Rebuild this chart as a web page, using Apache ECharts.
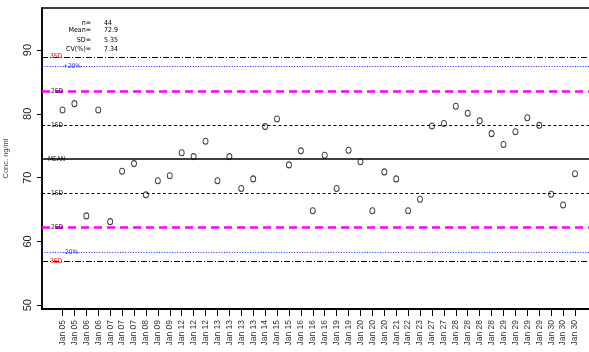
<!DOCTYPE html>
<html>
<head>
<meta charset="utf-8">
<script src="https://cdn.jsdelivr.net/npm/echarts@6/dist/echarts.min.js"></script>
<style>
  html, body { margin: 0; padding: 0; background: #ffffff; }
  #chart { width: 589px; height: 352px; }
</style>
</head>
<body>
<div id="chart"></div>
<script>
// ---- data ----
const categories = [
  'Jan 05','Jan 05','Jan 06','Jan 06','Jan 07','Jan 07','Jan 07','Jan 08','Jan 09','Jan 09',
  'Jan 12','Jan 12','Jan 12','Jan 13','Jan 13','Jan 13','Jan 13','Jan 14','Jan 15','Jan 15',
  'Jan 16','Jan 16','Jan 16','Jan 19','Jan 19','Jan 20','Jan 20','Jan 20','Jan 21','Jan 22',
  'Jan 23','Jan 27','Jan 27','Jan 28','Jan 28','Jan 28','Jan 28','Jan 29','Jan 29','Jan 29',
  'Jan 29','Jan 30','Jan 30','Jan 30'
];
const concValues = [
  80.6, 81.6, 64.0, 80.6, 63.1, 71.0, 72.2, 67.3, 69.5, 70.3,
  73.9, 73.3, 75.7, 69.5, 73.3, 68.3, 69.8, 78.0, 79.2, 72.0,
  74.2, 64.8, 73.5, 68.3, 74.3, 72.5, 64.8, 70.9, 69.8, 64.8,
  66.6, 78.1, 78.5, 81.2, 80.1, 78.9, 76.9, 75.2, 77.2, 79.4,
  78.2, 67.4, 65.7, 70.6
];
const statNames  = ['n=', 'Mean=', 'SD=', 'CV(%)='];
const statValues = ['44', '72.9', '5.35', '7.34'];
const limitNames  = ['3SD', '+20%', '2SD', '1SD', 'MEAN', '1SD', '2SD', '-20%', '3SD'];
const limitValues = [88.95, 87.48, 83.6, 78.25, 72.9, 67.55, 62.2, 58.32, 56.85];
const limitKinds  = ['sd3', 'pct', 'sd2', 'sd1', 'mean', 'sd1', 'sd2', 'pct', 'sd3'];
const yTickValues = [50, 60, 70, 80, 90];

// ---- styles ----
const narrow = "'Liberation Sans Narrow', 'DejaVu Sans Condensed', 'Liberation Sans', sans-serif";
const kindStyle = {
  sd3:  { line: { color: '#000000', width: 1, type: [6, 2, 1, 2] }, text: '#ee0000', dist: 8 },
  pct:  { line: { color: '#2222ff', width: 1, type: [1, 1.6] },    text: '#2222ff', dist: 21 },
  sd2:  { line: { color: '#ff00ff', width: 2.6, type: [8, 5] },    text: '#000000', dist: 9 },
  sd1:  { line: { color: '#000000', width: 1.1, type: [3, 2.5] },  text: '#000000', dist: 9 },
  mean: { line: { color: '#000000', width: 1.6, type: 'solid' },   text: '#000000', dist: 6 }
};

const xTickValues = categories.map((c, i) => i + 1);
const points = concValues.map((v, i) => [i + 1, v]);

const markData = limitValues.map((v, i) => {
  const k = kindStyle[limitKinds[i]];
  return {
    yAxis: v,
    lineStyle: k.line,
    label: {
      show: true,
      formatter: limitNames[i],
      position: 'insideStart',
      distance: [k.dist, 0],
      color: k.text,
      fontSize: 6.5,
      fontFamily: narrow
    }
  };
});

const chart = echarts.init(document.getElementById('chart'), null, { renderer: 'canvas' });

const statY = [23, 30.5, 40, 49.5];
const graphics = [];
statNames.forEach((s, i) => {
  graphics.push({
    type: 'text', x: 91, y: statY[i],
    style: { text: s, fill: '#000', font: '7px ' + narrow, textAlign: 'right', textVerticalAlign: 'middle' }
  });
  graphics.push({
    type: 'text', x: 104, y: statY[i],
    style: { text: statValues[i], fill: '#000', font: '7px ' + narrow, textAlign: 'left', textVerticalAlign: 'middle' }
  });
});

chart.setOption({
  animation: false,
  backgroundColor: '#ffffff',
  grid: {
    left: 42, top: 8, width: 553.5, bottom: 43,
    containLabel: false, outerBoundsMode: 'none',
    show: true, borderColor: '#000', borderWidth: 1.6, backgroundColor: 'transparent'
  },
  xAxis: {
    type: 'value',
    min: -0.72, max: 45.72,
    splitLine: { show: false },
    axisLine: { show: true, onZero: false, lineStyle: { color: '#000', width: 2 } },
    axisTick: { show: true, customValues: xTickValues, length: 7, lineStyle: { color: '#000', width: 1 } },
    axisLabel: {
      show: true, customValues: xTickValues, rotate: 90, margin: 11,
      fontSize: 8.5, color: '#333', fontFamily: "'Liberation Sans', Arial, sans-serif",
      formatter: v => categories[Math.round(v) - 1] || ''
    }
  },
  yAxis: {
    type: 'value',
    min: 49.4, max: 96.6,
    name: 'Conc. ng/ml', nameLocation: 'middle', nameGap: 32, nameRotate: 90,
    nameTextStyle: { fontSize: 7.5, color: '#444', fontFamily: "'Liberation Sans', Arial, sans-serif" },
    splitLine: { show: false },
    axisLine: { show: true, onZero: false, lineStyle: { color: '#000', width: 1.6 } },
    axisTick: { show: true, customValues: yTickValues, length: 5, lineStyle: { color: '#000', width: 1 } },
    axisLabel: {
      show: true, customValues: yTickValues, rotate: 90, margin: 9,
      fontSize: 11, color: '#222', fontFamily: "'Liberation Sans', Arial, sans-serif"
    }
  },
  graphic: graphics,
  series: [{
    type: 'scatter',
    data: points,
    symbol: 'circle',
    symbolSize: [5, 6],
    itemStyle: { color: 'rgba(255,255,255,0)', borderColor: '#111', borderWidth: 1 },
    z: 5,
    markLine: {
      silent: true,
      symbol: ['none', 'none'],
      animation: false,
      data: markData
    }
  }]
});
</script>
</body>
</html>
